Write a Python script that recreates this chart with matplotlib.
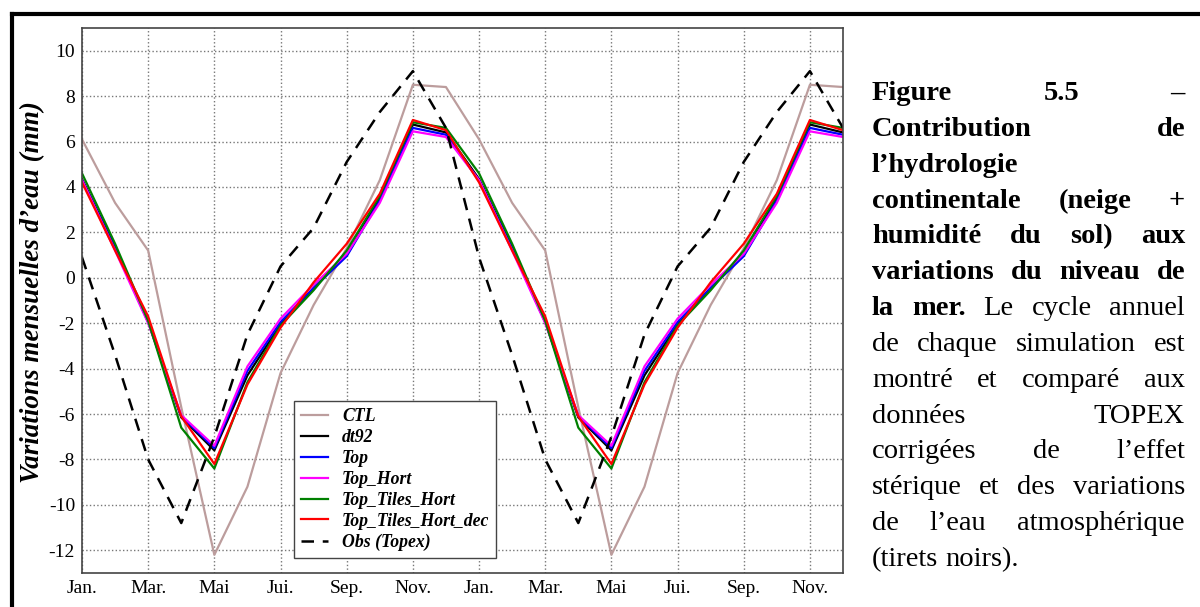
import numpy as np
import matplotlib
matplotlib.use("Agg")
import matplotlib.pyplot as plt
from matplotlib.lines import Line2D

plt.rcParams['font.family'] = ['Liberation Serif', 'DejaVu Serif']
plt.rcParams['axes.unicode_minus'] = False

# mois (deux cycles annuels)
months = np.arange(24)
tick_pos = np.arange(0, 24, 2)
tick_labels = ['Jan.', 'Mar.', 'Mai', 'Jui.', 'Sep.', 'Nov.',
               'Jan.', 'Mar.', 'Mai', 'Jui.', 'Sep.', 'Nov.']

ctl = [6.1, 3.3, 1.2, -5.7, -12.2, -9.2, -4.2, -1.2, 1.3, 4.3, 8.5, 8.4,
       6.1, 3.3, 1.2, -5.7, -12.2, -9.2, -4.2, -1.2, 1.3, 4.3, 8.5, 8.4]
dt92 = [4.35, 1.35, -1.95, -6.15, -7.6, -4.3, -2.05, -0.45, 1.0, 3.5, 6.75, 6.4,
        4.35, 1.35, -1.95, -6.15, -7.6, -4.3, -2.05, -0.45, 1.0, 3.5, 6.75, 6.4]
top = [4.3, 1.3, -1.95, -6.1, -7.5, -4.1, -1.95, -0.45, 0.95, 3.4, 6.6, 6.3,
       4.3, 1.3, -1.95, -6.1, -7.5, -4.1, -1.95, -0.45, 0.95, 3.4, 6.6, 6.3]
top_hort = [4.3, 1.2, -2.0, -6.05, -7.4, -3.9, -1.8, -0.3, 1.05, 3.3, 6.45, 6.2,
            4.3, 1.2, -2.0, -6.05, -7.4, -3.9, -1.8, -0.3, 1.05, 3.3, 6.45, 6.2]
tiles_hort = [4.6, 1.5, -1.9, -6.6, -8.4, -4.6, -2.1, -0.55, 1.2, 3.6, 6.85, 6.6,
              4.6, 1.5, -1.9, -6.6, -8.4, -4.6, -2.1, -0.55, 1.2, 3.6, 6.85, 6.6]
tiles_dec = [4.2, 1.2, -1.7, -6.1, -8.2, -4.7, -2.2, -0.2, 1.5, 3.7, 6.95, 6.5,
             4.2, 1.2, -1.7, -6.1, -8.2, -4.7, -2.2, -0.2, 1.5, 3.7, 6.95, 6.5]
obs = [0.9, -3.4, -8.0, -10.8, -7.0, -2.5, 0.5, 2.2, 5.1, 7.3, 9.1, 6.6,
       0.9, -3.4, -8.0, -10.8, -7.0, -2.5, 0.5, 2.2, 5.1, 7.3, 9.1, 6.6]

W, H = 1200, 607
fig = plt.figure(figsize=(W / 100, H / 100), dpi=100)
ax = fig.add_axes([82 / W, 1 - 573 / H, (843 - 82) / W, (573 - 28) / H])

ax.plot(months, ctl, color='#bc9d9d', lw=1.6, label='CTL')
ax.plot(months, dt92, color='black', lw=1.6, label='dt92')
ax.plot(months, top, color='#0000ff', lw=1.6, label='Top')
ax.plot(months, top_hort, color='#ff00ff', lw=1.6, label='Top_Hort')
ax.plot(months, tiles_hort, color='#008000', lw=1.6, label='Top_Tiles_Hort')
ax.plot(months, tiles_dec, color='#ff0000', lw=1.6, label='Top_Tiles_Hort_dec')
ax.plot(months, obs, color='black', lw=1.8, ls=(0, (5, 3.5)), label='Obs (Topex)')

ax.set_xlim(0, 23)
ax.set_ylim(-13, 11)
ax.set_xticks(tick_pos)
ax.set_xticklabels(tick_labels)
ax.set_yticks(np.arange(-12, 11, 2))
ax.tick_params(length=0, labelsize=14, pad=5)
ax.grid(True, color='#777777', ls=':', lw=1.0)
for s in ax.spines.values():
    s.set_color('#444444')
    s.set_linewidth(1.2)

fig.text(33 / W, 1 - 292 / H, 'Variations mensuelles d\u2019eau (mm)',
         rotation=90, ha='center', va='center', fontsize=19.5,
         fontweight='bold', fontstyle='italic')

leg = ax.legend(loc='lower left', bbox_to_anchor=((294 - 82) / 761, (573 - 558) / 545),
                borderaxespad=0, fancybox=False, framealpha=1, edgecolor='#444444',
                prop={'size': 12.8, 'weight': 'bold', 'style': 'italic'},
                handlelength=1.5, handletextpad=0.8, labelspacing=0.22,
                borderpad=0.4)
leg.get_frame().set_linewidth(1.0)

# cadre noir autour de la figure
fig.add_artist(Line2D([11.5 / W, 1], [1 - 14 / H, 1 - 14 / H], color='black', lw=3,
                      transform=fig.transFigure))
fig.add_artist(Line2D([11.5 / W, 11.5 / W], [0, 1 - 14 / H], color='black', lw=3,
                      transform=fig.transFigure))

# légende de la figure (texte justifié)
B, R = 'bold', 'normal'
caption = [
    ([('Figure', B), ('5.5', B), ('\u2013', B)], True),
    ([('Contribution', B), ('de', B)], True),
    ([('l\u2019hydrologie', B)], False),
    ([('continentale', B), ('(neige', B), ('+', B)], True),
    ([('humidit\u00e9', B), ('du', B), ('sol)', B), ('aux', B)], True),
    ([('variations', B), ('du', B), ('niveau', B), ('de', B)], True),
    ([('la', B), ('mer.', B), ('Le', R), ('cycle', R), ('annuel', R)], True),
    ([('de', R), ('chaque', R), ('simulation', R), ('est', R)], True),
    ([('montr\u00e9', R), ('et', R), ('compar\u00e9', R), ('aux', R)], True),
    ([('donn\u00e9es', R), ('TOPEX', R)], True),
    ([('corrig\u00e9es', R), ('de', R), ('l\u2019effet', R)], True),
    ([('st\u00e9rique', R), ('et', R), ('des', R), ('variations', R)], True),
    ([('de', R), ('l\u2019eau', R), ('atmosph\u00e9rique', R)], True),
    ([('(tirets', R), ('noirs).', R)], False),
]
cap_size = 20.5
x0, x1 = 872, 1185
base0, step = 100, 35.85
renderer = fig.canvas.get_renderer()
for i, (words, justify) in enumerate(caption):
    yb = 1 - (base0 + i * step) / H
    texts = [fig.text(0, yb, w, fontsize=cap_size, fontweight=wt, va='baseline', ha='left')
             for w, wt in words]
    widths = [t.get_window_extent(renderer).width for t in texts]
    if justify and len(texts) > 1:
        gap = (x1 - x0 - sum(widths)) / (len(texts) - 1)
    else:
        gap = cap_size * 100 / 72 * 0.25
    x = x0
    for t, w in zip(texts, widths):
        t.set_x(x / W)
        x += w + gap

fig.savefig('out.png', dpi=100)
